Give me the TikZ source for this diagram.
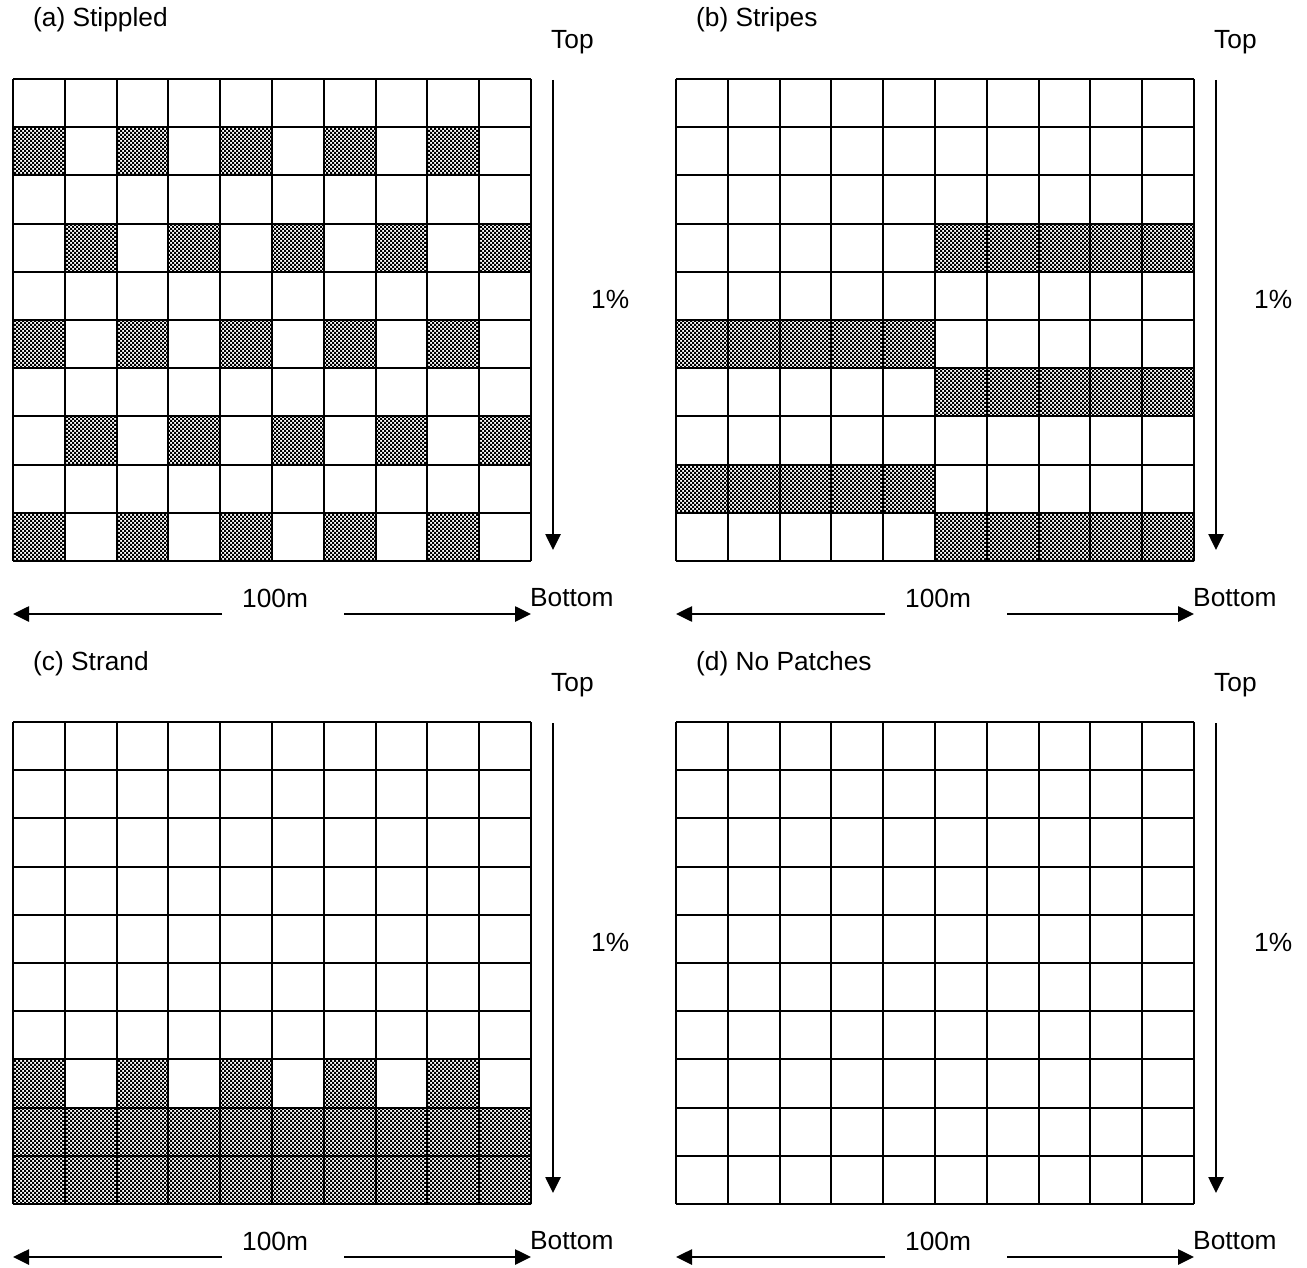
\documentclass[tikz,border=0pt]{standalone}
\usepackage{fontspec}
\setmainfont{Liberation Sans}
\usetikzlibrary{arrows.meta,patterns}
\pgfdeclarepatternformonly{finechecker}{\pgfqpoint{-0.05pt}{-0.05pt}}{\pgfqpoint{4.05pt}{4.05pt}}{\pgfqpoint{4pt}{4pt}}{%
  \pgfpathrectangle{\pgfqpoint{0pt}{0pt}}{\pgfqpoint{2pt}{2pt}}%
  \pgfpathrectangle{\pgfqpoint{2pt}{2pt}}{\pgfqpoint{2pt}{2pt}}%
  \pgfusepath{fill}}
\tikzset{
  lbl/.style={font=\fontsize{26.3}{31}\selectfont, inner sep=0pt, anchor=west},
  gridline/.style={line width=2pt, line cap=square},
  arr/.style={line width=2.6pt, -{Triangle[length=16pt,width=15pt]}},
  shade/.style={pattern=finechecker, pattern color=black},
}
% #1 x0, #2 y0, #3 col, #4 row
\newcommand\shadecell[4]{\fill[shade] ({#1+#3*51.8},{#2+#4*48.2}) rectangle ++(51.8,48.2);}
% #1 x0, #2 y0
\newcommand\panelgrid[2]{%
  \foreach \k in {0,...,10}{%
    \draw[gridline] ({#1+\k*51.8},#2) -- ++(0,482);
    \draw[gridline] (#1,{#2+\k*48.2}) -- ++(518,0);
  }}
% #1 name prefix, #2 x0 (grid left), #3 y0 (grid top)
\newcommand\panelaxes[3]{%
  \node[lbl] (#1-top) at ({#2+538},{#3-37}) {Top};
  \node[lbl] (#1-pct) at ({#2+578},{#3+220}) {1\%};
  \node[lbl] (#1-m) at ({#2+229},{#3+519}) {100m};
  \node[lbl] (#1-bottom) at ({#2+517},{#3+519}) {Bottom};
  \coordinate (#1-vs) at ({#2+540},{#3+1});
  \coordinate (#1-ve) at ({#2+540},{#3+471});
  \coordinate (#1-ls) at ({#2+209},{#3+535});
  \coordinate (#1-le) at ({#2},{#3+535});
  \coordinate (#1-rs) at ({#2+331},{#3+535});
  \coordinate (#1-re) at ({#2+518},{#3+535});
  \draw[arr] (#1-vs) -- (#1-ve);
  \draw[arr] (#1-ls) -- (#1-le);
  \draw[arr] (#1-rs) -- (#1-re);
}
\begin{document}
\begin{tikzpicture}[x=1pt,y=-1pt]
\useasboundingbox (0,0) rectangle (1307,1268);
% ---------- (a) Stippled
\foreach \r in {1,5,9}{\foreach \c in {0,2,4,6,8}{\shadecell{13}{79}{\c}{\r}}}
\foreach \r in {3,7}{\foreach \c in {1,3,5,7,9}{\shadecell{13}{79}{\c}{\r}}}
\panelgrid{13}{79}
\node[lbl] (a-title) at (33,20) {(a) Stippled};
\panelaxes{a}{13}{79}
% ---------- (b) Stripes
\foreach \r in {3,6,9}{\foreach \c in {5,...,9}{\shadecell{676}{79}{\c}{\r}}}
\foreach \r in {5,8}{\foreach \c in {0,...,4}{\shadecell{676}{79}{\c}{\r}}}
\panelgrid{676}{79}
\node[lbl] (b-title) at (696,20) {(b) Stripes};
\panelaxes{b}{676}{79}
% ---------- (c) Strand
\foreach \c in {0,2,4,6,8}{\shadecell{13}{722}{\c}{7}}
\foreach \r in {8,9}{\foreach \c in {0,...,9}{\shadecell{13}{722}{\c}{\r}}}
\panelgrid{13}{722}
\node[lbl] (c-title) at (33,664) {(c) Strand};
\panelaxes{c}{13}{722}
% ---------- (d) No Patches
\panelgrid{676}{722}
\node[lbl] (d-title) at (696,664) {(d) No Patches};
\panelaxes{d}{676}{722}
\end{tikzpicture}
\end{document}
